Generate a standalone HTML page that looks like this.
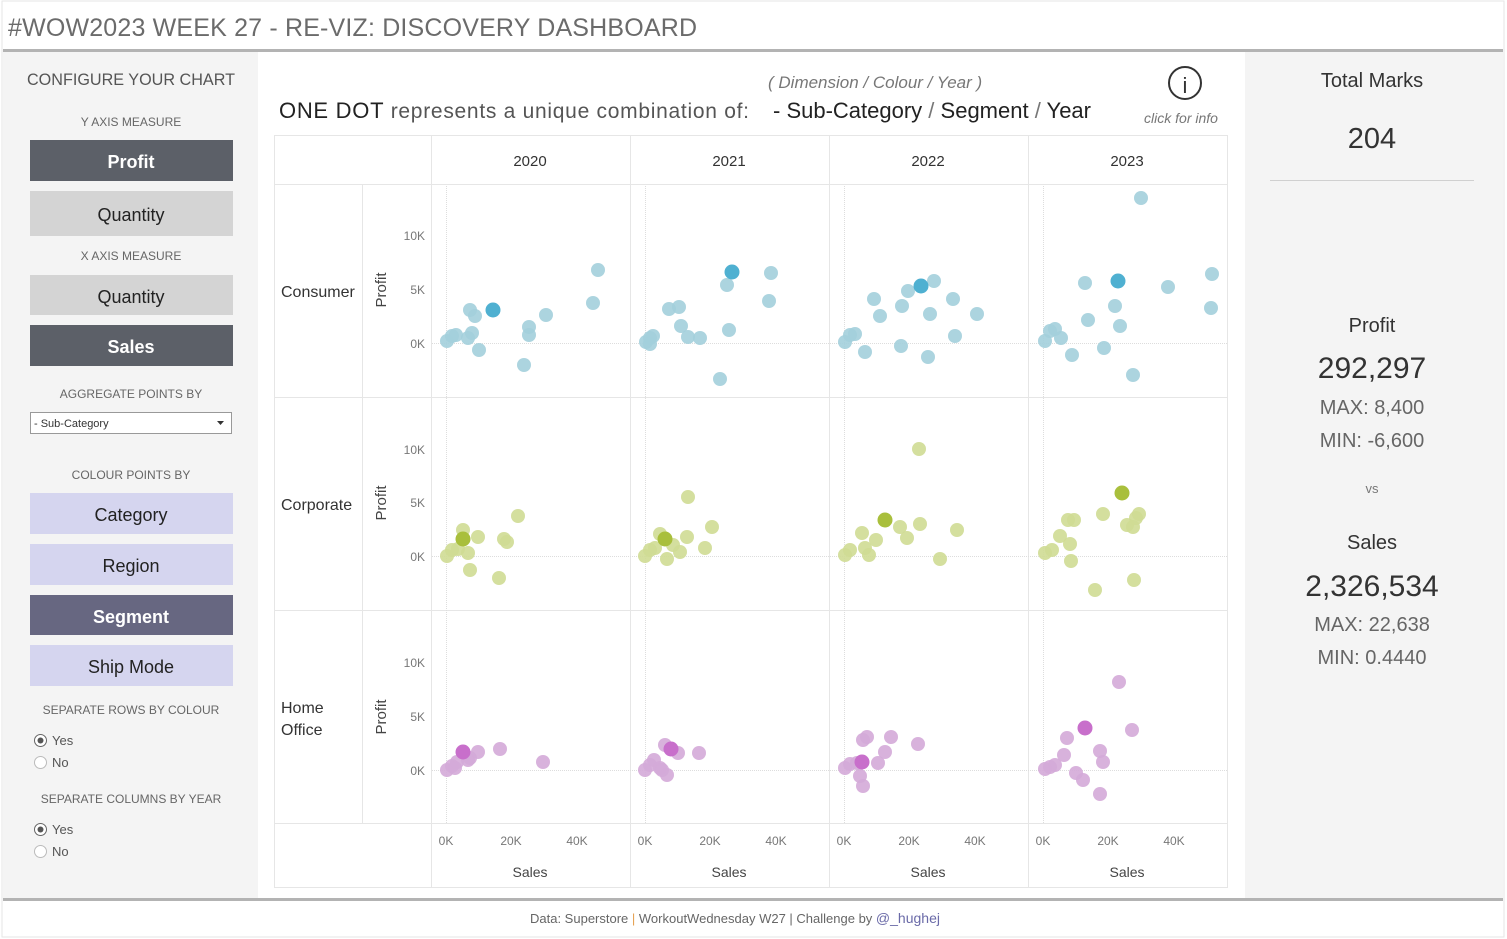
<!DOCTYPE html>
<html><head><meta charset="utf-8"><style>
html,body{margin:0;padding:0;background:#fff;width:1507px;height:939px;overflow:hidden}
svg{display:block;font-family:"Liberation Sans",sans-serif;white-space:pre}
</style></head><body>
<svg width="1507" height="939" viewBox="0 0 1507 939" xmlns="http://www.w3.org/2000/svg" xml:space="preserve">
<rect x="0" y="0" width="1507" height="939" fill="#fff"/>
<rect x="2" y="1" width="1502" height="936" fill="none" stroke="#e6e6e6"/>
<text x="8" y="36" font-size="25" fill="#6b6b6b" textLength="689" lengthAdjust="spacing">#WOW2023 WEEK 27 - RE-VIZ: DISCOVERY DASHBOARD</text>
<rect x="3" y="49" width="1500" height="3" fill="#b3b3b3"/>
<rect x="3" y="52" width="255" height="846" fill="#f4f4f4"/>
<g text-anchor="middle" fill="#555">
<text x="131" y="85" font-size="17" fill="#555" textLength="208" lengthAdjust="spacingAndGlyphs">CONFIGURE YOUR CHART</text>
<text x="131" y="126" font-size="12" fill="#666">Y AXIS MEASURE</text>
<rect x="30" y="140" width="203" height="41" fill="#5c6068"/>
<text x="131" y="168" font-size="18" fill="#fff" font-weight="bold">Profit</text>
<rect x="30" y="191" width="203" height="45" fill="#d4d4d4"/>
<text x="131" y="221" font-size="18" fill="#222">Quantity</text>
<text x="131" y="260" font-size="12" fill="#666">X AXIS MEASURE</text>
<rect x="30" y="275" width="203" height="40" fill="#d4d4d4"/>
<text x="131" y="303" font-size="18" fill="#222">Quantity</text>
<rect x="30" y="325" width="203" height="41" fill="#5c6068"/>
<text x="131" y="353" font-size="18" fill="#fff" font-weight="bold">Sales</text>
<text x="131" y="398" font-size="12" fill="#666">AGGREGATE POINTS BY</text>
<rect x="30.5" y="412.5" width="201" height="21" fill="#fff" stroke="#999"/>
<text x="34" y="427" font-size="11" fill="#333" text-anchor="start">- Sub-Category</text>
<path d="M217 421h7l-3.5 4z" fill="#333"/>
<text x="131" y="479" font-size="12" fill="#666">COLOUR POINTS BY</text>
<rect x="30" y="493" width="203" height="41" fill="#d5d5ef"/>
<text x="131" y="521" font-size="18" fill="#222">Category</text>
<rect x="30" y="544" width="203" height="41" fill="#d5d5ef"/>
<text x="131" y="572" font-size="18" fill="#222">Region</text>
<rect x="30" y="595" width="203" height="40" fill="#676781"/>
<text x="131" y="623" font-size="18" fill="#fff" font-weight="bold">Segment</text>
<rect x="30" y="645" width="203" height="41" fill="#d5d5ef"/>
<text x="131" y="673" font-size="18" fill="#222">Ship Mode</text>
<text x="131" y="714" font-size="12" fill="#666">SEPARATE ROWS BY COLOUR</text>
<text x="131" y="803" font-size="12" fill="#666">SEPARATE COLUMNS BY YEAR</text>
</g>
<g font-size="13" fill="#555">
<circle cx="40.5" cy="740.5" r="6" fill="#fff" stroke="#666"/><circle cx="40.5" cy="740.5" r="3" fill="#555"/><text x="52" y="745">Yes</text>
<circle cx="40.5" cy="762.5" r="6" fill="#fff" stroke="#bbb"/><text x="52" y="767">No</text>
<circle cx="40.5" cy="829.5" r="6" fill="#fff" stroke="#666"/><circle cx="40.5" cy="829.5" r="3" fill="#555"/><text x="52" y="834">Yes</text>
<circle cx="40.5" cy="851.5" r="6" fill="#fff" stroke="#bbb"/><text x="52" y="856">No</text>
</g>
<rect x="1245" y="52" width="258" height="846" fill="#f4f4f4"/>
<g text-anchor="middle" fill="#333">
<text x="1372" y="87" font-size="20">Total Marks</text>
<text x="1372" y="148" font-size="29">204</text>
<rect x="1270" y="180" width="204" height="1" fill="#d0d0d0"/>
<text x="1372" y="332" font-size="20">Profit</text>
<text x="1372" y="378" font-size="30">292,297</text>
<text x="1372" y="414" font-size="20" fill="#666">MAX: 8,400</text>
<text x="1372" y="447" font-size="20" fill="#666">MIN: -6,600</text>
<text x="1372" y="493" font-size="13" fill="#777">vs</text>
<text x="1372" y="549" font-size="20">Sales</text>
<text x="1372" y="596" font-size="30">2,326,534</text>
<text x="1372" y="631" font-size="20" fill="#666">MAX: 22,638</text>
<text x="1372" y="664" font-size="20" fill="#666">MIN: 0.4440</text>
</g>
<rect x="3" y="898" width="1500" height="3" fill="#b3b3b3"/>
<text x="530" y="923" font-size="13" fill="#666">Data: Superstore  <tspan fill="#e6a050">|</tspan> WorkoutWednesday W27  |   Challenge by <tspan fill="#6a6aa8" font-size="14">@_hughej</tspan></text>
<text x="768" y="88" font-style="italic" font-size="17" fill="#777">( Dimension   /    Colour    /    Year )</text>
<text x="279" y="118" font-size="22" fill="#222" textLength="470" lengthAdjust="spacing">ONE DOT <tspan fill="#555" font-size="21">represents a unique combination of:</tspan></text>
<text x="773" y="118" font-size="22" fill="#222">- Sub-Category <tspan fill="#777">/</tspan> Segment <tspan fill="#777">/</tspan> Year</text>
<circle cx="1185" cy="83" r="16" fill="none" stroke="#333" stroke-width="2"/>
<text x="1185" y="93" font-size="22" text-anchor="middle" fill="#333">i</text>
<text x="1181" y="123" font-size="14" font-style="italic" fill="#777" text-anchor="middle">click for info</text>
<g stroke="#e6e6e6" fill="none">
<rect x="274.5" y="135.5" width="953" height="752"/>
<path d="M274 184.5H1228M274 397.5H1228M274 610.5H1228M274 823.5H1228"/>
<path d="M431.5 135V887M630.5 135V887M829.5 135V887M1028.5 135V887M362.5 184V823"/>
</g>
<g stroke="#ddd" stroke-dasharray="1 1" fill="none">
<path d="M446.5 186V823M645.5 186V823M844.5 186V823M1043.5 186V823"/>
<path d="M432 343.5H1227M432 556.5H1227M432 770.5H1227"/>
</g>
<g font-size="15" fill="#333" text-anchor="middle">
<text x="530" y="166">2020</text><text x="729" y="166">2021</text><text x="928" y="166">2022</text><text x="1127" y="166">2023</text>
</g>
<g font-size="16" fill="#333">
<text x="281" y="297">Consumer</text><text x="281" y="510">Corporate</text><text x="281" y="713">Home</text><text x="281" y="735">Office</text>
</g>
<g font-size="15" fill="#444" text-anchor="middle">
<text transform="translate(386,290) rotate(-90)">Profit</text>
<text transform="translate(386,503) rotate(-90)">Profit</text>
<text transform="translate(386,717) rotate(-90)">Profit</text>
</g>
<g font-size="12" fill="#777" text-anchor="end">
<text x="425" y="240">10K</text><text x="425" y="294">5K</text><text x="425" y="348">0K</text>
<text x="425" y="454">10K</text><text x="425" y="507">5K</text><text x="425" y="561">0K</text>
<text x="425" y="667">10K</text><text x="425" y="721">5K</text><text x="425" y="775">0K</text>
</g>
<g font-size="12" fill="#777" text-anchor="middle">
<text x="446" y="845">0K</text><text x="511" y="845">20K</text><text x="577" y="845">40K</text>
<text x="645" y="845">0K</text><text x="710" y="845">20K</text><text x="776" y="845">40K</text>
<text x="844" y="845">0K</text><text x="909" y="845">20K</text><text x="975" y="845">40K</text>
<text x="1043" y="845">0K</text><text x="1108" y="845">20K</text><text x="1174" y="845">40K</text>
</g>
<g font-size="14" fill="#444" text-anchor="middle">
<text x="530" y="877">Sales</text><text x="729" y="877">Sales</text><text x="928" y="877">Sales</text><text x="1127" y="877">Sales</text>
</g>
<g fill="#a3cfdc" fill-opacity="0.9">
<circle cx="447" cy="341" r="7"/><circle cx="452" cy="336" r="7"/><circle cx="456" cy="335" r="7"/><circle cx="470" cy="310" r="7"/><circle cx="475" cy="316" r="7"/><circle cx="468" cy="338" r="7"/><circle cx="472" cy="333" r="7"/><circle cx="479" cy="350" r="7"/><circle cx="529" cy="327" r="7"/><circle cx="529" cy="335" r="7"/><circle cx="524" cy="365" r="7"/><circle cx="546" cy="315" r="7"/><circle cx="593" cy="303" r="7"/><circle cx="598" cy="270" r="7"/>
<circle cx="646" cy="342" r="7"/><circle cx="650" cy="338" r="7"/><circle cx="653" cy="336" r="7"/><circle cx="669" cy="309" r="7"/><circle cx="679" cy="307" r="7"/><circle cx="681" cy="326" r="7"/><circle cx="688" cy="337" r="7"/><circle cx="700" cy="338" r="7"/><circle cx="727" cy="285" r="7"/><circle cx="729" cy="330" r="7"/><circle cx="720" cy="379" r="7"/><circle cx="769" cy="301" r="7"/><circle cx="771" cy="273" r="7"/><circle cx="650" cy="344" r="7"/>
<circle cx="845" cy="342" r="7"/><circle cx="850" cy="335" r="7"/><circle cx="855" cy="334" r="7"/><circle cx="874" cy="299" r="7"/><circle cx="880" cy="316" r="7"/><circle cx="865" cy="352" r="7"/><circle cx="901" cy="346" r="7"/><circle cx="902" cy="306" r="7"/><circle cx="908" cy="291" r="7"/><circle cx="934" cy="281" r="7"/><circle cx="930" cy="314" r="7"/><circle cx="928" cy="357" r="7"/><circle cx="953" cy="299" r="7"/><circle cx="955" cy="336" r="7"/><circle cx="977" cy="314" r="7"/>
<circle cx="1045" cy="341" r="7"/><circle cx="1050" cy="331" r="7"/><circle cx="1055" cy="329" r="7"/><circle cx="1061" cy="338" r="7"/><circle cx="1072" cy="355" r="7"/><circle cx="1085" cy="283" r="7"/><circle cx="1088" cy="320" r="7"/><circle cx="1104" cy="348" r="7"/><circle cx="1115" cy="306" r="7"/><circle cx="1120" cy="326" r="7"/><circle cx="1133" cy="375" r="7"/><circle cx="1141" cy="198" r="7"/><circle cx="1168" cy="287" r="7"/><circle cx="1212" cy="274" r="7"/><circle cx="1211" cy="308" r="7"/>
</g>
<g fill="#4fb0d1"><circle cx="493" cy="310" r="7.5"/><circle cx="732" cy="272" r="7.5"/><circle cx="921" cy="286" r="7.5"/><circle cx="1118" cy="281" r="7.5"/></g>
<g fill="#cfdc94" fill-opacity="0.9">
<circle cx="447" cy="556" r="7"/><circle cx="452" cy="550" r="7"/><circle cx="458" cy="549" r="7"/><circle cx="463" cy="530" r="7"/><circle cx="468" cy="553" r="7"/><circle cx="478" cy="537" r="7"/><circle cx="470" cy="570" r="7"/><circle cx="499" cy="578" r="7"/><circle cx="504" cy="539" r="7"/><circle cx="507" cy="542" r="7"/><circle cx="518" cy="516" r="7"/>
<circle cx="645" cy="556" r="7"/><circle cx="650" cy="550" r="7"/><circle cx="655" cy="548" r="7"/><circle cx="660" cy="534" r="7"/><circle cx="667" cy="559" r="7"/><circle cx="673" cy="545" r="7"/><circle cx="680" cy="552" r="7"/><circle cx="687" cy="537" r="7"/><circle cx="688" cy="497" r="7"/><circle cx="705" cy="548" r="7"/><circle cx="712" cy="527" r="7"/>
<circle cx="845" cy="555" r="7"/><circle cx="850" cy="550" r="7"/><circle cx="862" cy="533" r="7"/><circle cx="865" cy="548" r="7"/><circle cx="869" cy="555" r="7"/><circle cx="876" cy="540" r="7"/><circle cx="900" cy="527" r="7"/><circle cx="907" cy="538" r="7"/><circle cx="919" cy="449" r="7"/><circle cx="920" cy="524" r="7"/><circle cx="940" cy="559" r="7"/><circle cx="957" cy="530" r="7"/>
<circle cx="1045" cy="553" r="7"/><circle cx="1052" cy="550" r="7"/><circle cx="1060" cy="536" r="7"/><circle cx="1068" cy="520" r="7"/><circle cx="1071" cy="561" r="7"/><circle cx="1074" cy="520" r="7"/><circle cx="1070" cy="544" r="7"/><circle cx="1095" cy="590" r="7"/><circle cx="1103" cy="514" r="7"/><circle cx="1127" cy="525" r="7"/><circle cx="1133" cy="527" r="7"/><circle cx="1136" cy="518" r="7"/><circle cx="1139" cy="514" r="7"/><circle cx="1134" cy="580" r="7"/>
</g>
<g fill="#a9bf3c"><circle cx="463" cy="539" r="7.5"/><circle cx="665" cy="539" r="7.5"/><circle cx="885" cy="520" r="7.5"/><circle cx="1122" cy="493" r="7.5"/></g>
<g fill="#d4aad8" fill-opacity="0.9">
<circle cx="447" cy="770" r="7"/><circle cx="452" cy="766" r="7"/><circle cx="457" cy="762" r="7"/><circle cx="468" cy="760" r="7"/><circle cx="470" cy="758" r="7"/><circle cx="455" cy="768" r="7"/><circle cx="478" cy="752" r="7"/><circle cx="500" cy="749" r="7"/><circle cx="543" cy="762" r="7"/>
<circle cx="645" cy="770" r="7"/><circle cx="650" cy="765" r="7"/><circle cx="654" cy="760" r="7"/><circle cx="660" cy="768" r="7"/><circle cx="665" cy="745" r="7"/><circle cx="667" cy="775" r="7"/><circle cx="662" cy="770" r="7"/><circle cx="678" cy="753" r="7"/><circle cx="699" cy="753" r="7"/>
<circle cx="845" cy="768" r="7"/><circle cx="850" cy="764" r="7"/><circle cx="857" cy="763" r="7"/><circle cx="863" cy="740" r="7"/><circle cx="867" cy="737" r="7"/><circle cx="863" cy="786" r="7"/><circle cx="860" cy="776" r="7"/><circle cx="878" cy="763" r="7"/><circle cx="885" cy="752" r="7"/><circle cx="891" cy="737" r="7"/><circle cx="918" cy="744" r="7"/>
<circle cx="1045" cy="769" r="7"/><circle cx="1050" cy="767" r="7"/><circle cx="1055" cy="765" r="7"/><circle cx="1064" cy="755" r="7"/><circle cx="1067" cy="738" r="7"/><circle cx="1076" cy="773" r="7"/><circle cx="1083" cy="780" r="7"/><circle cx="1100" cy="751" r="7"/><circle cx="1103" cy="762" r="7"/><circle cx="1100" cy="794" r="7"/><circle cx="1119" cy="682" r="7"/><circle cx="1132" cy="730" r="7"/>
</g>
<g fill="#c86fcb"><circle cx="463" cy="752" r="7.5"/><circle cx="671" cy="749" r="7.5"/><circle cx="862" cy="762" r="7.5"/><circle cx="1085" cy="728" r="7.5"/></g>
</svg>
</body></html>
